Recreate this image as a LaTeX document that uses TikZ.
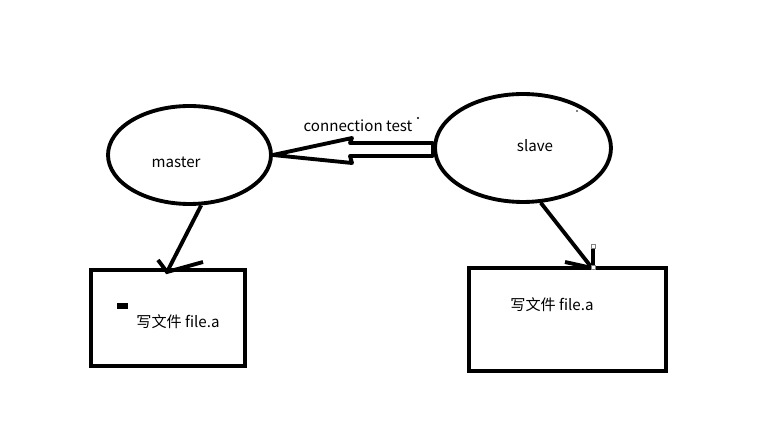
\documentclass[tikz,border=0pt]{standalone}
\usepackage{fontspec}
\setmainfont{Noto Sans CJK SC}
\usetikzlibrary{shapes.geometric}
\begin{document}
\begin{tikzpicture}[x=0.02cm, y=-0.02cm, line width=2.2pt, font=\fontsize{8.6}{10}\selectfont]
    \useasboundingbox (0, 0) rectangle (782, 435);
    % Ellipses
    \node[draw, ellipse, minimum width=3.26cm, minimum height=1.96cm] (master) at (189.5, 155) {};
    \node[draw, ellipse, minimum width=3.52cm, minimum height=2.16cm] (slave) at (523, 148) {};
    \node (mastertext) at (176, 162) {master};
    \node (slavetext) at (535, 146) {slave};
    % Boxes
    \node[draw, rectangle, minimum width=3.08cm, minimum height=1.92cm] (masterbox) at (168, 318) {};
    \node[draw, rectangle, minimum width=3.94cm, minimum height=2.06cm] (slavebox) at (567.5, 319.5) {};
    \node (masterfile) at (178, 322) {写文件 file.a};
    \node (slavefile) at (552, 305) {写文件 file.a};
    % Arrow master to its box
    \coordinate (mastertip) at (167, 272);
    \draw (master.-77) -- (mastertip);
    \draw (158, 260) -- (mastertip) -- (203, 262);
    % Arrow slave to its box
    \coordinate (slavetip) at (592, 268);
    \draw (slave.-72) -- (slavetip);
    \draw (565, 262) -- (slavetip);
    % Hollow arrow, slave to master
    \draw[line join=round] (master.east) -- (352, 138) -- (350, 143) -- (433, 143)
        -- (433, 156) -- (350, 156) -- (352, 163) -- cycle;
    \node (conntext) at (358, 126) {connection test};
    % Stray marks
    \fill (117, 303) rectangle (128, 309);
    \fill (591, 245) rectangle (595, 268);
    \draw[line width=0.4pt, gray, fill=white] (591, 244) rectangle (595, 248);
    \draw[line width=0.4pt, gray, fill=white] (591, 265) rectangle (595, 269);
    \fill (418, 118) circle (1.2);
    \fill (577, 111) circle (0.8);
\end{tikzpicture}
\end{document}
